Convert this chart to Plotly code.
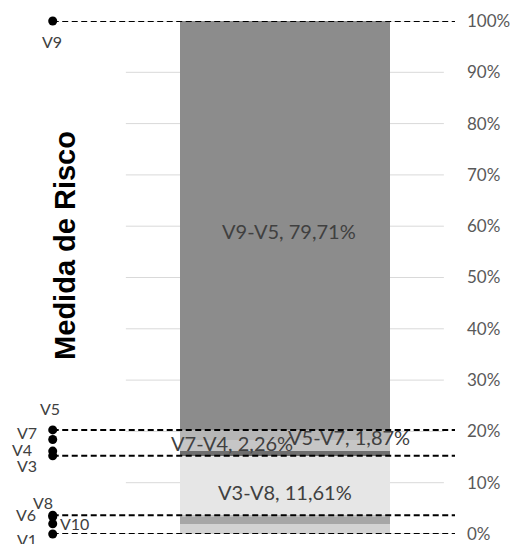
import numpy as np
import plotly.graph_objects as go

# ---------------- data ----------------
SEGMENT_NAMES = ["V10-V1", "V6-V10", "V8-V6", "V3-V8", "V4-V3", "V7-V4", "V5-V7", "V9-V5"]
SEGMENT_VALUES = [2.00, 1.35, 0.30, 11.61, 0.90, 2.26, 1.87, 79.71]
POINT_NAMES = ["V1", "V10", "V6", "V8", "V3", "V4", "V7", "V5", "V9"]
GROUP_BOUNDS = ["V1", "V8", "V3", "V5", "V9"]
LABELLED_SEGMENTS = ["V3-V8", "V7-V4", "V5-V7", "V9-V5"]
TICK_VALUES = list(range(0, 101, 10))
TICK_TEXT = [f"{v}%" for v in TICK_VALUES]
AXIS_TITLE = "Medida de Risco"

# ---------------- styles ----------------
SEGMENT_COLORS = ["#d2d2d2", "#a6a6a6", "#bfbfbf", "#e6e6e6", "#6e6e6e", "#c6c6c6", "#b6b6b6", "#8c8c8c"]
SEG_LABEL_SHIFT = {"V3-V8": (0, -6), "V7-V4": (-53, 2), "V5-V7": (64, -2), "V9-V5": (4, -6)}
POINT_LABEL_STYLE = {
    "V9": ("center", -1, -20),
    "V5": ("center", -3, 21),
    "V7": ("right", -14, 7),
    "V4": ("right", -19, 2),
    "V3": ("right", -14, -10),
    "V8": ("center", -10, 13),
    "V6": ("right", -15, 2),
    "V10": ("left", 5, 0),
    "V1": ("right", -14, -5),
}
X_RANGE = [-0.77, 0.535]
BAR_X = 0
BAR_WIDTH = 0.6625
MARKER_X = -0.73
GRID_X = (-0.5, 0.5)
TEXT_COLOR = "#404040"
FONT = "Lato"

point_values = np.concatenate([[0.0], np.cumsum(SEGMENT_VALUES)])
point_map = dict(zip(POINT_NAMES, point_values))

fig = go.Figure()
for name, val, col in zip(SEGMENT_NAMES, SEGMENT_VALUES, SEGMENT_COLORS):
    fig.add_trace(go.Bar(x=[BAR_X], y=[val], name=name, marker=dict(color=col, line=dict(width=0)),
                         width=BAR_WIDTH, showlegend=False, hoverinfo="skip"))

annotations = []
cum = point_values
for i, (name, val) in enumerate(zip(SEGMENT_NAMES, SEGMENT_VALUES)):
    if name in LABELLED_SEGMENTS:
        xs, ys = SEG_LABEL_SHIFT[name]
        txt = f"{name}, " + f"{val:.2f}".replace(".", ",") + "%"
        annotations.append(dict(x=BAR_X, y=(cum[i] + cum[i + 1]) / 2, xref="x", yref="y", text=txt,
                                showarrow=False, xshift=xs, yshift=ys,
                                font=dict(family=FONT, size=20, color=TEXT_COLOR)))

shapes = []
for v in TICK_VALUES:
    shapes.append(dict(type="line", xref="x", yref="y", x0=GRID_X[0], x1=GRID_X[1], y0=v, y1=v,
                       layer="below", line=dict(color="#d9d9d9", width=1)))
for nm in GROUP_BOUNDS:
    shapes.append(dict(type="line", xref="x", yref="y", x0=MARKER_X, x1=X_RANGE[1],
                       y0=point_map[nm], y1=point_map[nm], layer="above",
                       line=dict(color="black", width=2, dash="6px,3.5px")))

fig.add_trace(go.Scatter(x=[MARKER_X] * len(POINT_NAMES), y=[point_map[n] for n in POINT_NAMES],
                         mode="markers", marker=dict(color="black", size=9), cliponaxis=False,
                         showlegend=False, hoverinfo="skip"))
for nm in POINT_NAMES:
    anchor, xs, ys = POINT_LABEL_STYLE[nm]
    annotations.append(dict(x=MARKER_X, y=point_map[nm], xref="x", yref="y", text=nm, showarrow=False,
                            xanchor=anchor, xshift=xs, yshift=ys,
                            font=dict(family=FONT, size=16, color=TEXT_COLOR)))

annotations.append(dict(x=0.06, y=0.5634, xref="paper", yref="paper", text=f"<b>{AXIS_TITLE}</b>",
                        textangle=-90, showarrow=False, xanchor="center", yanchor="middle",
                        font=dict(family="Liberation Sans", size=29, color="black")))

fig.update_layout(
    width=518, height=544,
    margin=dict(l=40, r=63, t=21, b=10),
    paper_bgcolor="white", plot_bgcolor="white",
    barmode="stack",
    xaxis=dict(range=X_RANGE, visible=False, automargin=False),
    yaxis=dict(range=[0, 100], side="right", tickvals=TICK_VALUES, ticktext=TICK_TEXT,
               showgrid=False, zeroline=False, showline=False, automargin=False,
               ticks="", ticklabelstandoff=11, ticklabeloverflow="allow",
               tickfont=dict(family=FONT, size=17, color="#595959")),
    shapes=shapes, annotations=annotations,
)

fig.write_html("out.html")
